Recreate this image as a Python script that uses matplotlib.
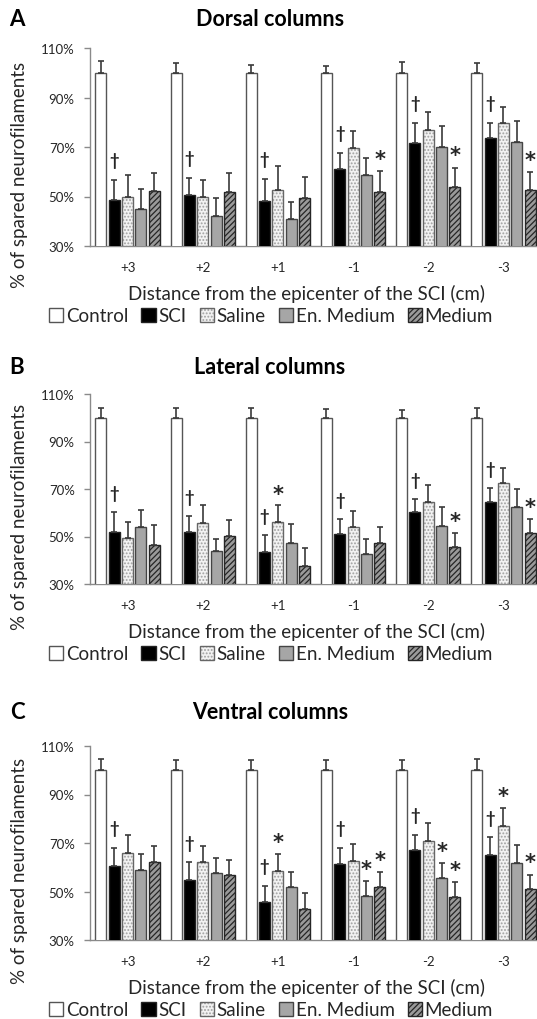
import numpy as np
import matplotlib
matplotlib.use('Agg')
import matplotlib.pyplot as plt
from matplotlib.ticker import FuncFormatter

plt.rcParams['font.family'] = ['Lato', 'DejaVu Sans']
plt.rcParams['hatch.linewidth'] = 0.9

groups = ['+3', '+2', '+1', '-1', '-2', '-3']
series = ['Control', 'SCI', 'Saline', 'En. Medium', 'Medium']
titles = ['Dorsal columns', 'Lateral columns', 'Ventral columns']
letters = ['A', 'B', 'C']

# dorsal columns (A)
control_A = [100, 100, 100, 100, 100, 100]
control_A_err = [4.9, 3.9, 3.3, 2.7, 4.5, 3.9]
sci_A = [48.7, 50.5, 48.2, 61.1, 71.8, 73.6]
sci_A_err = [8.0, 7.1, 8.8, 6.4, 8.0, 6.0]
saline_A = [49.9, 49.7, 52.5, 69.4, 76.8, 79.6]
saline_A_err = [8.8, 7.0, 9.9, 6.9, 7.2, 6.6]
enmed_A = [44.8, 42.0, 40.9, 58.7, 70.2, 72.2]
enmed_A_err = [8.4, 7.5, 7.0, 7.0, 8.4, 8.2]
medium_A = [52.1, 51.8, 49.3, 52.0, 53.9, 52.5]
medium_A_err = [7.3, 7.6, 8.7, 8.3, 7.8, 7.2]

# lateral columns (B)
control_B = [100, 100, 100, 100, 100, 100]
control_B_err = [4.0, 4.0, 4.0, 3.7, 3.3, 4.0]
sci_B = [52.0, 51.8, 43.3, 51.2, 60.3, 64.4]
sci_B_err = [8.3, 7.0, 7.3, 6.3, 5.3, 6.2]
saline_B = [49.2, 55.5, 56.0, 53.9, 64.4, 72.5]
saline_B_err = [6.8, 7.9, 7.1, 7.0, 7.1, 6.2]
enmed_B = [53.9, 43.9, 47.4, 42.8, 54.3, 62.3]
enmed_B_err = [7.4, 5.1, 7.9, 6.0, 8.0, 7.7]
medium_B = [46.4, 50.2, 37.4, 47.4, 45.6, 51.6]
medium_B_err = [8.6, 6.9, 7.8, 6.5, 5.9, 5.8]

# ventral columns (C)
control_C = [100, 100, 100, 100, 100, 100]
control_C_err = [4.5, 4.1, 4.4, 4.4, 4.4, 4.8]
sci_C = [60.4, 54.9, 45.5, 61.4, 67.3, 65.2]
sci_C_err = [7.6, 7.2, 6.9, 6.6, 6.1, 7.2]
saline_C = [65.9, 62.2, 58.5, 62.5, 71.0, 77.1]
saline_C_err = [7.3, 6.6, 7.0, 6.9, 7.2, 7.3]
enmed_C = [58.9, 57.8, 52.0, 48.0, 55.7, 61.7]
enmed_C_err = [6.7, 6.2, 6.1, 6.2, 6.1, 7.5]
medium_C = [62.2, 56.8, 42.6, 51.7, 47.7, 51.0]
medium_C_err = [6.5, 6.0, 6.8, 6.2, 6.1, 6.0]

# significance marks: (series index, group index)
dagger_A = [(1, 0), (1, 1), (1, 2), (1, 3), (1, 4), (1, 5)]
star_A = [(4, 3), (4, 4), (4, 5)]
dagger_B = [(1, 0), (1, 1), (1, 2), (1, 3), (1, 4), (1, 5)]
star_B = [(2, 2), (4, 4), (4, 5)]
dagger_C = [(1, 0), (1, 1), (1, 2), (1, 3), (1, 4), (1, 5)]
star_C = [(2, 2), (3, 3), (4, 3), (3, 4), (4, 4), (2, 5), (4, 5)]

panels = [
    ([control_A, sci_A, saline_A, enmed_A, medium_A],
     [control_A_err, sci_A_err, saline_A_err, enmed_A_err, medium_A_err], dagger_A, star_A),
    ([control_B, sci_B, saline_B, enmed_B, medium_B],
     [control_B_err, sci_B_err, saline_B_err, enmed_B_err, medium_B_err], dagger_B, star_B),
    ([control_C, sci_C, saline_C, enmed_C, medium_C],
     [control_C_err, sci_C_err, saline_C_err, enmed_C_err, medium_C_err], dagger_C, star_C),
]

W, H = 537, 1020
# (face, hatch, hatch colour, outline)
styles = [
    ('white', None, None, '#555555'),
    ('black', None, None, '#222222'),
    ('#f2f2f2', '.....', '#a0a0a0', '#666666'),
    ('#a6a6a6', None, None, '#444444'),
    ('#9a9a9a', '//////', '#262626', '#262626'),
]
TXT = '#262626'

fig = plt.figure(figsize=(W / 100, H / 100), dpi=100)

ax_top = [49, 395, 747]
ax_bot = [247, 585, 941]
title_y = [20, 367, 713]
left_px, width_px = 90, 451
step, bw = 0.177, 0.146

for p, (means, errs, daggers, stars) in enumerate(panels):
    top, bot = ax_top[p], ax_bot[p]
    ax = fig.add_axes([left_px / W, 1 - bot / H, width_px / W, (bot - top) / H])
    x = np.arange(len(groups))
    handles = []
    for i in range(len(series)):
        face, hatch, hcol, edge = styles[i]
        xs = x + (i - 2) * step
        h = []
        if hatch:
            b0 = ax.bar(xs, means[i], bw, color=face, edgecolor=hcol, hatch=hatch, linewidth=0, zorder=2)
            h.append(b0.patches[0])
            b1 = ax.bar(xs, means[i], bw, color='none', edgecolor=edge, linewidth=1.0, zorder=3)
        else:
            b1 = ax.bar(xs, means[i], bw, color=face, edgecolor=edge, linewidth=1.0, zorder=3)
        h.append(b1.patches[0])
        handles.append(tuple(h))
        ax.errorbar(xs, means[i], yerr=[np.zeros(len(groups)), errs[i]], fmt='none',
                    ecolor='#3a3a3a', elinewidth=1.2, capsize=2.5, capthick=1.2, zorder=4)

    for (i, g) in daggers:
        ax.text(g + (i - 2) * step, means[i][g] + errs[i][g] + 8, '\u2020',
                ha='center', va='center', fontsize=12, fontweight='bold', color=TXT)
    for (i, g) in stars:
        ax.text(g + (i - 2) * step, means[i][g] + errs[i][g] + 5, '*',
                ha='center', va='center', fontsize=15, fontweight='bold',
                family='DejaVu Sans', color=TXT)

    ax.set_xlim(-0.5, len(groups) - 0.5)
    ax.set_ylim(30, 110)
    ax.set_yticks([30, 50, 70, 90, 110])
    ax.yaxis.set_major_formatter(FuncFormatter(lambda v, pos: '%d%%' % v))
    ax.set_xticks(x)
    ax.set_xticklabels(groups)
    ax.spines['right'].set_visible(False)
    ax.spines['top'].set_visible(False)
    for s in ['left', 'bottom']:
        ax.spines[s].set_color('#8a8a8a')
        ax.spines[s].set_linewidth(1.0)
    ax.tick_params(axis='y', length=4, width=1, color='#8a8a8a', pad=7, labelsize=9.5, labelcolor=TXT)
    ax.tick_params(axis='x', length=0, pad=11, labelsize=9.5, labelcolor=TXT)

    fig.text(17 / W, 1 - title_y[p] / H, letters[p], ha='center', va='center',
             fontsize=16, fontweight='bold', color='black')
    fig.text(270 / W, 1 - title_y[p] / H, titles[p], ha='center', va='center',
             fontsize=15.5, fontweight='bold', color='black')
    fig.text(20 / W, 1 - ((top + bot) / 2 + 27) / H, '% of spared neurofilaments',
             rotation=90, ha='center', va='center', fontsize=13.5, color=TXT)
    fig.text(307 / W, 1 - (bot + 47) / H, 'Distance from the epicenter of the SCI (cm)',
             ha='center', va='center', fontsize=13.5, color=TXT)
    fig.legend(handles, series, loc='center', bbox_to_anchor=(271 / W, 1 - (bot + 70) / H),
               ncol=5, frameon=False, fontsize=13.5, handlelength=0.75, handleheight=0.75,
               handletextpad=0.15, columnspacing=0.7, borderpad=0, labelcolor=TXT)

fig.savefig('out.png', dpi=100)
